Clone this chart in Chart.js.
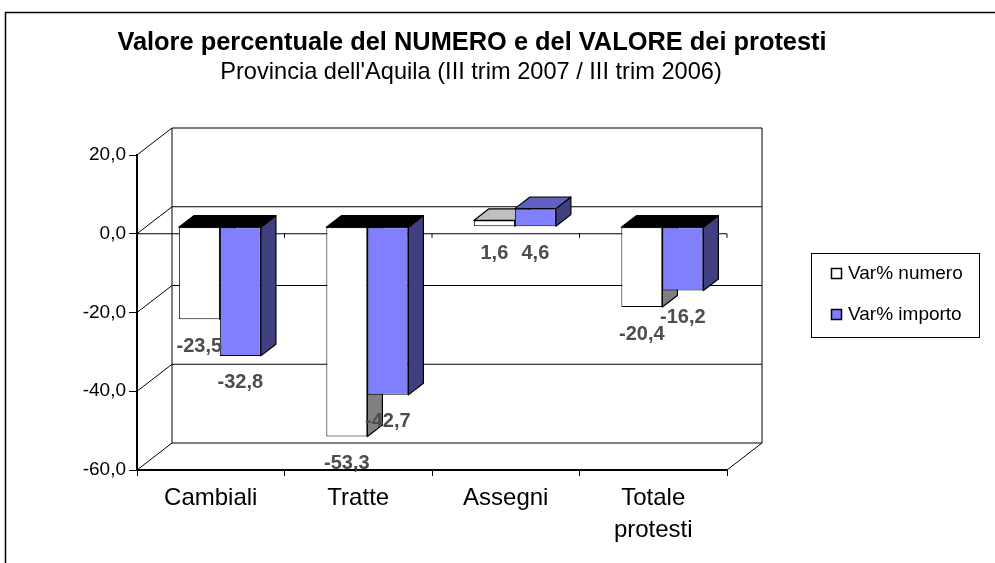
<!DOCTYPE html>
<html lang="it">
<head>
<meta charset="UTF-8">
<title>Protesti - Provincia dell'Aquila</title>
<script src="https://cdn.jsdelivr.net/npm/chart.js"></script>
<style>
  body { margin: 0; background: #fff; }
  canvas { display: block; }
</style>
</head>
<body>
<canvas id="protestiChart" width="995" height="563"></canvas>
<script>
// data
const categories = ['Cambiali', 'Tratte', 'Assegni', ['Totale', 'protesti']];
const seriesNames = ['Var% numero', 'Var% importo'];
const varNumero = [-23.5, -53.3, 1.6, -20.4];
const varImporto = [-32.8, -42.7, 4.6, -16.2];
const yMin = -60, yMax = 20, yStep = 20;
const titleText = 'Valore percentuale del NUMERO e del VALORE dei protesti';
const subtitleText = "Provincia dell'Aquila (III trim 2007 / III trim 2006)";

const FONT = "'Liberation Sans', Arial, sans-serif";
// 3d look: offset of the back wall, and depth slice used by the bars
const DEPTH_X = 35, DEPTH_Y = 27;
const BAR_FRONT = 0.26, BAR_BACK = 0.69;

function fmt(v) {
    return v.toFixed(1).replace('.', ',');
}

function poly(ctx, pts, fill) {
    ctx.beginPath();
    pts.forEach(([x, y], i) => i ? ctx.lineTo(x, y) : ctx.moveTo(x, y));
    ctx.closePath();
    ctx.fillStyle = fill;
    ctx.fill();
    ctx.stroke();
}

const excel3d = {
    id: 'excel3d',
    beforeDraw(chart) {
        const ctx = chart.ctx;
        ctx.save();
        // outer frame (only top and left edges are inside the picture)
        ctx.strokeStyle = '#000';
        ctx.lineWidth = 1.5;
        ctx.strokeRect(5.5, 12.5, 1100, 700);
        // titles
        ctx.fillStyle = '#000';
        ctx.textAlign = 'center';
        ctx.textBaseline = 'alphabetic';
        ctx.font = 'bold 25.4px ' + FONT;
        ctx.fillText(titleText, 472, 50);
        ctx.font = '23.6px ' + FONT;
        ctx.fillText(subtitleText, 471, 79);
        ctx.restore();
    },
    beforeDatasetsDraw(chart) {
        const ctx = chart.ctx;
        const {left, right, top, bottom} = chart.chartArea;
        const ys = chart.scales.y, xs = chart.scales.x;
        ctx.save();
        ctx.strokeStyle = '#000';
        ctx.lineWidth = 1;
        // back wall + gridlines, side wall diagonals
        ys.ticks.forEach(t => {
            const py = ys.getPixelForValue(t.value);
            ctx.beginPath();
            ctx.moveTo(left + DEPTH_X, py - DEPTH_Y);
            ctx.lineTo(right + DEPTH_X, py - DEPTH_Y);
            ctx.moveTo(left, py);
            ctx.lineTo(left + DEPTH_X, py - DEPTH_Y);
            ctx.stroke();
        });
        ctx.beginPath();
        ctx.moveTo(left + DEPTH_X, top - DEPTH_Y);
        ctx.lineTo(left + DEPTH_X, bottom - DEPTH_Y);
        ctx.moveTo(right + DEPTH_X, top - DEPTH_Y);
        ctx.lineTo(right + DEPTH_X, bottom - DEPTH_Y);
        ctx.lineTo(right, bottom);
        ctx.stroke();
        // category axis crossing at 0
        const y0 = ys.getPixelForValue(0);
        const half = (xs.getPixelForValue(1) - xs.getPixelForValue(0)) / 2;
        ctx.beginPath();
        ctx.moveTo(left, y0);
        ctx.lineTo(right, y0);
        categories.forEach((c, i) => {
            const bx = xs.getPixelForValue(i) + half;
            ctx.moveTo(bx, y0);
            ctx.lineTo(bx, y0 + 4);
        });
        ctx.stroke();
        ctx.restore();
    },
    beforeDatasetDraw() {
        // bars are drawn below, in category order, with their 3d faces
        return false;
    },
    afterDatasetsDraw(chart) {
        const ctx = chart.ctx;
        const metas = chart.data.datasets.map((d, i) => chart.getDatasetMeta(i));
        const dx = (BAR_BACK - BAR_FRONT) * DEPTH_X;
        const dy = (BAR_BACK - BAR_FRONT) * DEPTH_Y;
        ctx.save();
        ctx.translate(BAR_FRONT * DEPTH_X, -BAR_FRONT * DEPTH_Y);
        categories.forEach((c, i) => {
            metas.forEach((meta, d) => {
                const ds = chart.data.datasets[d];
                const el = meta.data[i];
                const {x, y, base, width} = el.getProps(['x', 'y', 'base', 'width'], true);
                const l = x - width / 2, r = x + width / 2;
                const t = Math.min(y, base), b = Math.max(y, base);
                el.draw(ctx);
                ctx.strokeStyle = '#000';
                ctx.lineWidth = 1.2;
                ctx.lineJoin = 'round';
                poly(ctx, [[r, t], [r + dx, t - dy], [r + dx, b - dy], [r, b]], ds.sideColor);
                poly(ctx, [[l, t], [l + dx, t - dy], [r + dx, t - dy], [r, t]],
                    ds.data[i] < 0 ? '#000' : ds.topColor);
            });
        });
        // value labels
        ctx.fillStyle = '#4d4d4d';
        ctx.font = 'bold 20px ' + FONT;
        ctx.textAlign = 'center';
        ctx.textBaseline = 'middle';
        metas.forEach((meta, d) => {
            meta.data.forEach((el, i) => {
                const {x, y, base} = el.getProps(['x', 'y', 'base'], true);
                ctx.fillText(fmt(chart.data.datasets[d].data[i]), x, Math.max(y, base) + 27);
            });
        });
        ctx.restore();
    },
    afterDraw(chart) {
        // legend box
        const ctx = chart.ctx;
        const colors = chart.data.datasets.map(d => d.backgroundColor);
        ctx.save();
        ctx.strokeStyle = '#000';
        ctx.lineWidth = 1;
        ctx.fillStyle = '#fff';
        ctx.fillRect(811.5, 253.5, 168, 84);
        ctx.strokeRect(811.5, 253.5, 168, 84);
        ctx.font = '19px ' + FONT;
        ctx.textAlign = 'left';
        ctx.textBaseline = 'alphabetic';
        seriesNames.forEach((name, i) => {
            const base = 279 + i * 41;
            ctx.fillStyle = colors[i];
            ctx.lineWidth = 1.5;
            ctx.fillRect(831.5, base - 10.5, 10, 10);
            ctx.strokeRect(831.5, base - 10.5, 10, 10);
            ctx.fillStyle = '#000';
            ctx.fillText(name, 848, base);
        });
        ctx.restore();
    }
};

Chart.defaults.font.family = FONT;
Chart.defaults.color = '#000';

new Chart(document.getElementById('protestiChart'), {
    type: 'bar',
    data: {
        labels: categories,
        datasets: [{
            label: seriesNames[0],
            data: varNumero,
            backgroundColor: '#ffffff',
            sideColor: '#808080',
            topColor: '#c0c0c0',
            borderColor: '#000',
            borderWidth: 1,
            borderSkipped: false,
            clip: false
        }, {
            label: seriesNames[1],
            data: varImporto,
            backgroundColor: '#8080ff',
            sideColor: '#404080',
            topColor: '#6060c0',
            borderColor: '#000',
            borderWidth: 1,
            borderSkipped: false,
            clip: false
        }]
    },
    options: {
        responsive: false,
        devicePixelRatio: 1,
        animation: false,
        events: [],
        categoryPercentage: 0.556,
        barPercentage: 1,
        layout: {
            padding: {left: 77, top: 155, right: 268, bottom: 13}
        },
        plugins: {
            legend: {display: false},
            title: {display: false},
            tooltip: {enabled: false}
        },
        scales: {
            x: {
                grid: {display: true, drawOnChartArea: false, drawTicks: true, tickLength: 6, color: '#000'},
                border: {display: true, color: '#000', width: 2},
                ticks: {font: {size: 24, lineHeight: 1.35}, padding: 6, maxRotation: 0, autoSkip: false},
                afterFit(scale) { scale.height = 80; }
            },
            y: {
                min: yMin,
                max: yMax,
                grid: {display: true, drawOnChartArea: false, drawTicks: true, tickLength: 8, color: '#000'},
                border: {display: true, color: '#000', width: 2},
                ticks: {
                    stepSize: yStep,
                    font: {size: 19},
                    padding: 3,
                    callback: v => fmt(v)
                },
                afterFit(scale) { scale.width = 60; }
            }
        }
    },
    plugins: [excel3d]
});
</script>
</body>
</html>
